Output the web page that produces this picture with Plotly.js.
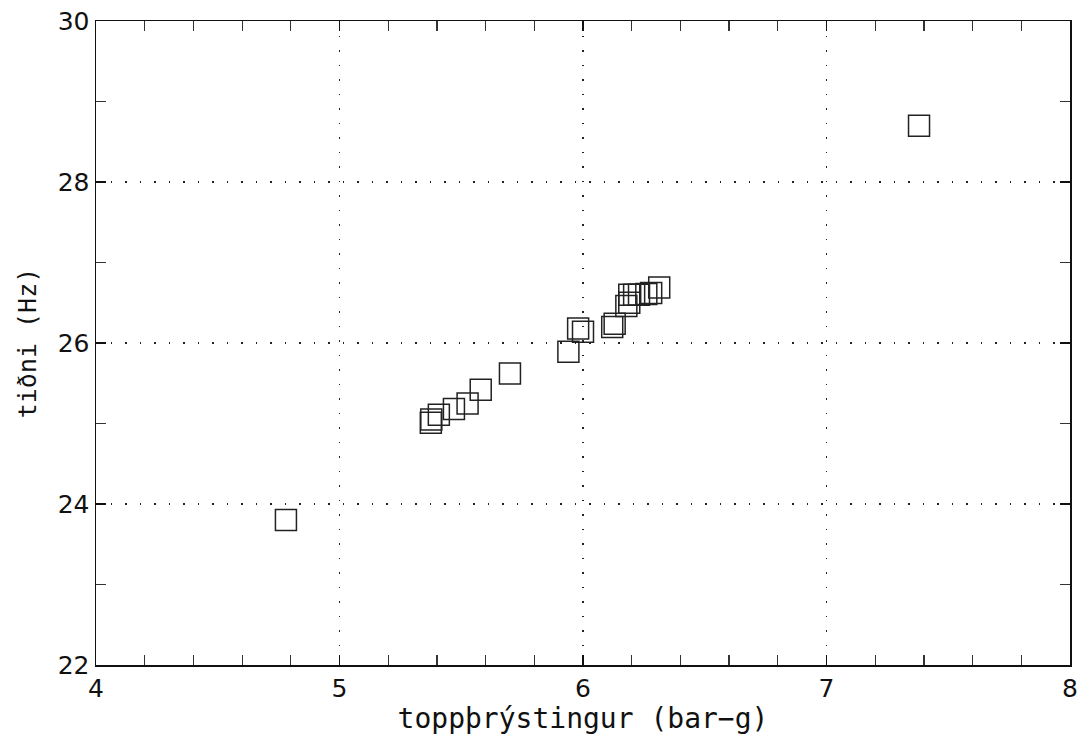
<!DOCTYPE html>
<html>
<head>
<meta charset="utf-8">
<script src="https://cdn.plot.ly/plotly-3.0.1.min.js"></script>
<style>html,body{margin:0;padding:0;background:#fff;}#chart{width:1089px;height:748px;}</style>
</head>
<body>
<div id="chart"></div>
<script>
const pressure = [4.78, 5.375, 5.377, 5.408, 5.47, 5.526, 5.58, 5.70, 5.94, 5.98, 6.00, 6.12, 6.13, 6.178, 6.19, 6.19, 6.21, 6.23, 6.26, 6.28, 6.313, 7.38];
const frequency = [23.80, 25.01, 25.05, 25.11, 25.18, 25.25, 25.42, 25.62, 25.89, 26.18, 26.14, 26.20, 26.24, 26.46, 26.50, 26.60, 26.60, 26.60, 26.61, 26.62, 26.69, 28.70];
const xTickVals = [4, 5, 6, 7, 8];
const yTickVals = [22, 24, 26, 28, 30];
const xTitle = 'toppþrýstingur (bar\u2212g)';
const yTitle = 'tiðni (Hz)';

const tickFont = {family: 'DejaVu Sans, sans-serif', size: 25, color: '#111'};
const xTitleFont = {family: 'DejaVu Sans Mono, monospace', size: 28, color: '#111'};
const yTitleFont = {family: 'DejaVu Sans Mono, monospace', size: 25, color: '#111'};

const trace = {
  x: pressure, y: frequency, type: 'scatter', mode: 'markers',
  marker: {symbol: 'square-open', size: 21, color: '#222', line: {width: 1.5, color: '#222'}},
  hoverinfo: 'x+y'
};

const axisCommon = {
  showline: true, linecolor: '#111', linewidth: 1.5, mirror: 'allticks',
  ticks: 'inside', ticklen: 10, tickwidth: 1.2, tickcolor: '#111',
  showgrid: true, gridcolor: '#222', gridwidth: 1.3, griddash: '1.5px,13px',
  zeroline: false, tickfont: tickFont
};

const layout = {
  width: 1089, height: 748,
  margin: {l: 96, r: 19, t: 21, b: 83},
  paper_bgcolor: '#fff', plot_bgcolor: '#fff',
  showlegend: false,
  xaxis: Object.assign({}, axisCommon, {
    range: [4, 8], tickvals: xTickVals, ticktext: xTickVals.map(String),
    minor: {dtick: 0.2, ticks: 'inside', ticklen: 10, tickwidth: 1.2, tickcolor: '#333', showgrid: false},
    title: {text: xTitle, font: xTitleFont, standoff: 6}
  }),
  yaxis: Object.assign({}, axisCommon, {
    range: [22, 30], tickvals: yTickVals, ticktext: yTickVals.map(String),
    minor: {dtick: 1, ticks: 'inside', ticklen: 10, tickwidth: 1.2, tickcolor: '#333', showgrid: false},
    title: {text: yTitle, font: yTitleFont, standoff: 14}
  })
};

Plotly.newPlot('chart', [trace], layout, {displayModeBar: false, staticPlot: true});
</script>
</body>
</html>
